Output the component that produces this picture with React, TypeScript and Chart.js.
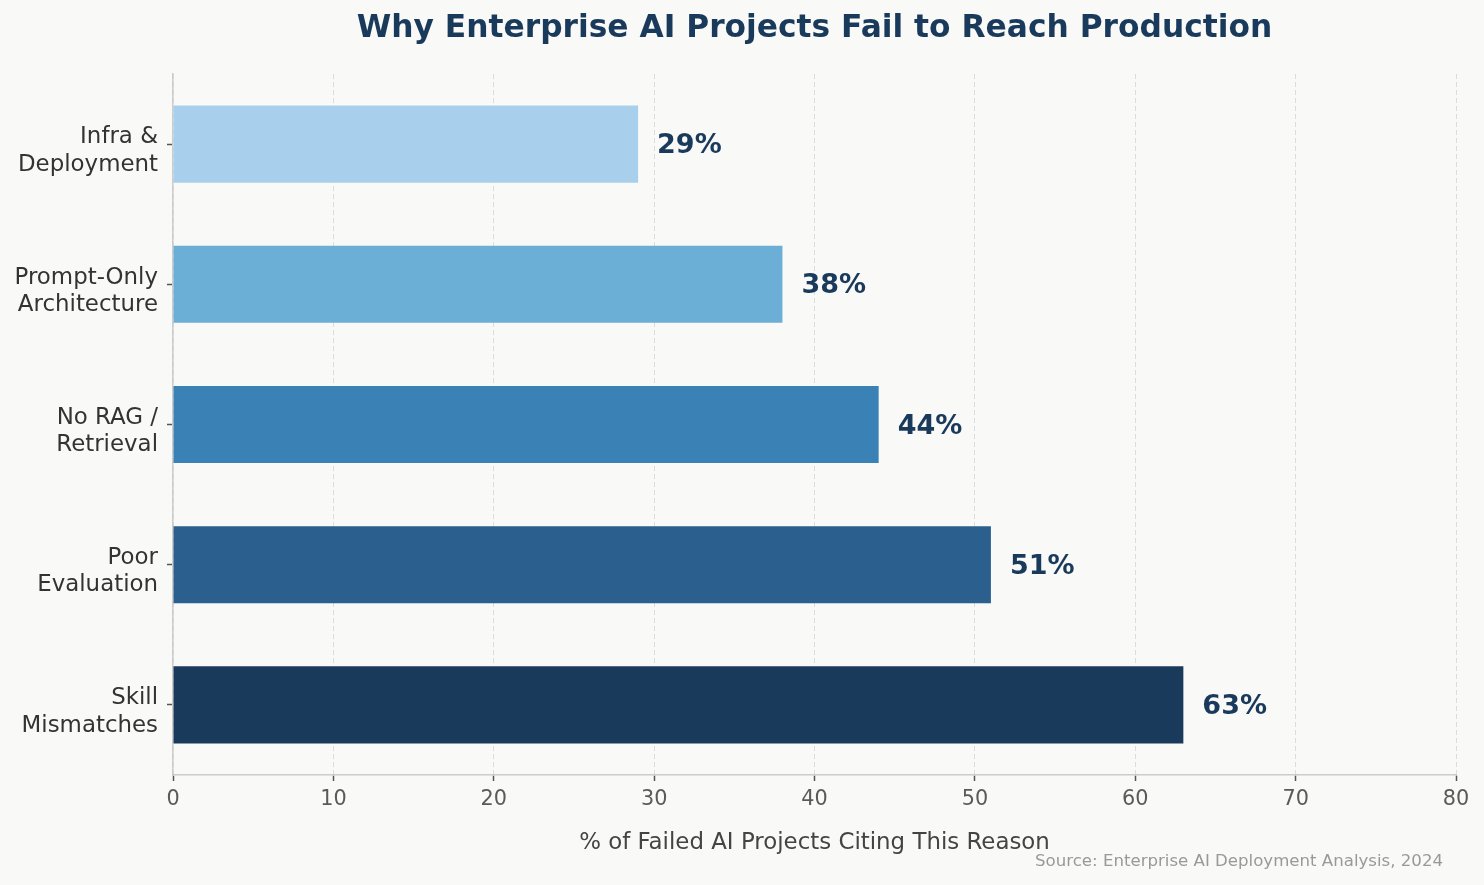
import { useEffect, useRef } from "react";
import { Chart, registerables } from "chart.js";

Chart.register(...registerables);

const categories: string[][] = [
  ["Infra &", "Deployment"],
  ["Prompt-Only", "Architecture"],
  ["No RAG /", "Retrieval"],
  ["Poor", "Evaluation"],
  ["Skill", "Mismatches"],
];
const values: number[] = [29, 38, 44, 51, 63];
const valueLabels: string[] = ["29%", "38%", "44%", "51%", "63%"];
const xMin = 0;
const xMax = 80;
const xStep = 10;
const titleText = "Why Enterprise AI Projects Fail to Reach Production";
const xAxisTitle = "% of Failed AI Projects Citing This Reason";
const sourceText = "Source: Enterprise AI Deployment Analysis, 2024";

const barColors = ["#a8d0ec", "#6baed6", "#3a81b5", "#2a5f8e", "#1a3a5c"];
const BG = "#f9f9f7";
const NAVY = "#1a3a5c";
const FONT = '"DejaVu Sans", sans-serif';

const overlay = {
  id: "overlay",
  beforeDraw(chart: any) {
    const { ctx, width, height } = chart;
    ctx.save();
    ctx.fillStyle = BG;
    ctx.fillRect(0, 0, width, height);
    ctx.restore();
  },
  afterDatasetsDraw(chart: any) {
    const { ctx } = chart;
    const xs = chart.scales.x;
    const meta = chart.getDatasetMeta(0);
    ctx.save();
    ctx.font = `bold 27px ${FONT}`;
    ctx.fillStyle = NAVY;
    ctx.textAlign = "left";
    ctx.textBaseline = "middle";
    values.forEach((v, i) => {
      const bar = meta.data[i];
      ctx.fillText(valueLabels[i], xs.getPixelForValue(v) + 19, bar.y + 2);
    });
    ctx.restore();
  },
  afterDraw(chart: any) {
    const { ctx, chartArea } = chart;
    const cx = (chartArea.left + chartArea.right) / 2;
    ctx.save();
    ctx.fillStyle = NAVY;
    ctx.font = `bold 31.3px ${FONT}`;
    ctx.textAlign = "center";
    ctx.textBaseline = "middle";
    ctx.fillText(titleText, cx, 29);

    ctx.fillStyle = "#444";
    ctx.font = `22.9px ${FONT}`;
    ctx.fillText(xAxisTitle, cx, 843);

    ctx.fillStyle = "#999";
    ctx.font = `16.6px ${FONT}`;
    ctx.textAlign = "right";
    ctx.fillText(sourceText, 1443, 862);
    ctx.restore();
  },
};

export default function App() {
  const ref = useRef<HTMLCanvasElement>(null);
  useEffect(() => {
    document.body.style.margin = "0";
    document.body.style.background = BG;
    const chart = new Chart(ref.current as HTMLCanvasElement, {
      type: "bar",
      data: {
        labels: categories,
        datasets: [
          {
            data: values,
            backgroundColor: barColors,
            borderWidth: 0,
            barPercentage: 0.55,
            categoryPercentage: 1,
          },
        ],
      },
      options: {
        indexAxis: "y",
        animation: false,
        responsive: false,
        maintainAspectRatio: false,
        layout: { padding: { top: 74, right: 28, left: 0, bottom: 0 } },
        plugins: {
          legend: { display: false },
          title: { display: false },
          tooltip: { enabled: false },
        },
        font: { family: FONT },
        scales: {
          x: {
            type: "linear",
            min: xMin,
            max: xMax,
            afterFit(scale: any) {
              scale.height = 110;
            },
            ticks: {
              stepSize: xStep,
              color: "#5a5a5a",
              padding: 6,
              font: { family: FONT, size: 20.8 },
            },
            grid: {
              color: "#dddddd",
              lineWidth: 1,
              drawTicks: true,
              tickLength: 6,
              tickColor: "#555",
              tickWidth: 1.5,
              tickBorderDash: [],
            },
            border: { display: true, color: "#cccccc", width: 1.5, dash: [5, 3] },
          },
          y: {
            type: "category",
            afterFit(scale: any) {
              scale.width = 173;
            },
            ticks: {
              color: "#333",
              padding: 9,
              labelOffset: 7,
              font: { family: FONT, size: 22.9 },
            },
            grid: {
              offset: false,
              drawOnChartArea: false,
              drawTicks: true,
              tickLength: 6,
              tickColor: "#555",
              tickWidth: 1.5,
            },
            border: { display: true, color: "#cccccc", width: 1.5 },
          },
        },
      } as any,
      plugins: [overlay],
    });
    return () => chart.destroy();
  }, []);
  return (
    <div style={{ width: 1484, height: 885, position: "relative" }}>
      <canvas ref={ref} width={1484} height={885} style={{ display: "block" }} />
    </div>
  );
}
